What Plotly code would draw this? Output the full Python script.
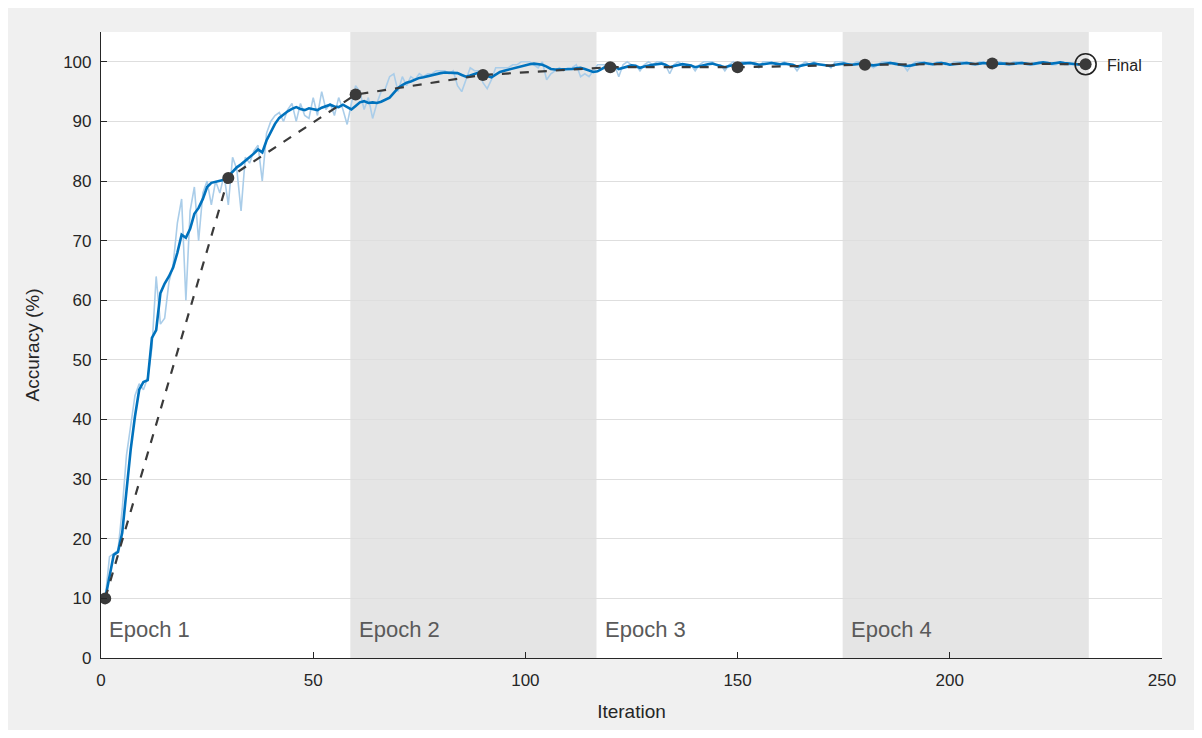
import plotly.graph_objects as go

# ---------------- data ----------------
iterations = list(range(1, 233))

raw_accuracy = [
    10, 17, 17.5, 18, 25, 34, 39, 44, 46, 45,
    47, 52, 64, 56, 57, 63, 66, 73, 77, 60,
    75, 79, 70, 78, 80, 76, 80, 78, 81, 76,
    84, 82, 75, 84, 83, 85, 86, 80, 88, 90,
    91, 91.5, 90, 92, 93, 90, 93, 91, 90.5, 94,
    91, 95, 92, 93, 91, 94, 92, 89.5, 93, 96,
    95, 92, 94, 90.5, 93, 95, 95.5, 97.5, 98, 95,
    97.5, 96, 97.5, 97, 98, 97.5, 98, 98, 98.5, 98.5,
    98.5, 98, 98.5, 96, 95, 97, 99, 98.5, 98.5, 96.5,
    95.5, 97, 99, 99, 99, 99, 99.5, 99.5, 100, 100,
    100, 99.5, 99, 100, 97, 98, 98.5, 99, 98.5, 99,
    99, 99.5, 97.5, 98, 97.5, 98.5, 99.5, 99.5, 99.5, 99.5,
    99.5, 97.5, 99.5, 100, 99.5, 99.5, 98.5, 99.5, 100, 99.5,
    100, 100, 99.5, 98, 99.5, 100, 99.5, 99.5, 99.5, 98.5,
    99.5, 100, 100, 100, 99.5, 99.5, 98.5, 99.5, 100, 99.5,
    100, 100, 100, 99.5, 99, 100, 100, 100, 99.5, 99.5,
    100, 99.5, 99.5, 98.5, 99.5, 100, 99.5, 100, 99.5, 99.5,
    99.5, 99, 100, 100, 100, 99.5, 99.5, 100, 100, 99.5,
    99.5, 99, 99.5, 100, 100, 100, 99.5, 99.5, 99.5, 98.5,
    99.5, 100, 100, 100, 99.5, 99.5, 100, 100, 99.5, 99.5,
    100, 100, 100, 100, 99.5, 99.5, 100, 100, 99.5, 99.5,
    100, 100, 99.5, 99.5, 100, 100, 100, 99.5, 99.5, 99.5,
    100, 100, 100, 99.5, 99.5, 100, 99.5, 99.5, 99.5, 99.5,
    99.5, 99.5,
]

smoothed_accuracy = [
    10, 14, 17.3, 17.8, 21, 28, 35, 40.5, 45, 46.3,
    46.6, 53.7, 55, 61.2, 62.8, 64, 65.5, 68, 71, 70.5,
    72, 74.5, 75.5, 77, 79, 79.7, 79.9, 80, 80.2, 80.8,
    81.6, 82.3, 82.8, 83.4, 83.9, 84.6, 85.3, 84.8, 86.8, 88.3,
    89.6, 90.6, 91.2, 91.7, 92.1, 92.4, 92.1, 91.9, 92.2, 92.1,
    91.9, 92.3, 92.6, 92.8, 92.5, 92.4, 92.8, 92.4, 92.0, 92.6,
    93.2, 93.4, 93.1, 93.2, 93.1, 93.3, 93.7, 94.0, 94.8, 95.6,
    96.1, 96.5, 96.7, 97.0, 97.3, 97.4, 97.6, 97.8, 97.9, 98.1,
    98.2, 98.2, 98.2, 98.1, 97.8, 97.5, 97.7, 98.0, 98.2, 98.0,
    97.6, 97.4, 97.9, 98.3, 98.5, 98.7, 98.9, 99.0, 99.2, 99.4,
    99.6, 99.7, 99.6, 99.5, 99.2, 98.8, 98.7, 98.7, 98.8, 98.7,
    98.8, 98.9, 99.0, 98.8, 98.5, 98.3, 98.4, 98.8, 99.2, 99.4,
    99.3, 98.8, 99.0, 99.2, 99.4, 99.3, 99.0, 99.2, 99.4, 99.5,
    99.6, 99.7, 99.5, 99.1, 99.3, 99.5, 99.6, 99.5, 99.4, 99.1,
    99.3, 99.5, 99.6, 99.7, 99.5, 99.4, 99.1, 99.3, 99.5, 99.6,
    99.7, 99.8, 99.8, 99.7, 99.5, 99.6, 99.7, 99.8, 99.7, 99.6,
    99.7, 99.6, 99.5, 99.2, 99.4, 99.5, 99.6, 99.7, 99.6, 99.5,
    99.4, 99.3, 99.5, 99.6, 99.7, 99.6, 99.5, 99.6, 99.7, 99.6,
    99.5, 99.4, 99.5, 99.6, 99.7, 99.8, 99.7, 99.6, 99.5, 99.3,
    99.4, 99.6, 99.7, 99.8, 99.7, 99.6, 99.7, 99.8, 99.7, 99.5,
    99.6, 99.7, 99.8, 99.8, 99.7, 99.6, 99.7, 99.8, 99.7, 99.7,
    99.8, 99.8, 99.7, 99.6, 99.7, 99.8, 99.8, 99.7, 99.6, 99.7,
    99.8, 99.9, 99.8, 99.7, 99.8, 99.9, 99.8, 99.7, 99.6, 99.5,
    99.5, 99.5,
]

validation_iterations = [1, 30, 60, 90, 120, 150, 180, 210, 232]
validation_accuracy = [10, 80.5, 94.5, 97.8, 99.1, 99.1, 99.5, 99.7, 99.6]

final_iteration = 232
final_accuracy = 99.6

epoch_labels = ["Epoch 1", "Epoch 2", "Epoch 3", "Epoch 4"]
epoch_starts = [0, 58.75, 116.75, 174.75]
epoch_ends = [58.75, 116.75, 174.75, 232.75]

x_ticks = [0, 50, 100, 150, 200, 250]
y_ticks = [0, 10, 20, 30, 40, 50, 60, 70, 80, 90, 100]

# ---------------- figure ----------------
FONT = "Liberation Sans, Arial, Helvetica, sans-serif"
fig = go.Figure()

shapes = []
for i, (s, e) in enumerate(zip(epoch_starts, epoch_ends)):
    if i % 2 == 1:
        shapes.append(dict(type="rect", xref="x", yref="y domain", x0=s, x1=e, y0=0, y1=1,
                           fillcolor="#e5e5e5", line_width=0, layer="below"))

fig.add_trace(go.Scatter(x=iterations, y=raw_accuracy, mode="lines",
                         line=dict(color="#aacde9", width=1.6), hoverinfo="skip", showlegend=False))
fig.add_trace(go.Scatter(x=iterations, y=smoothed_accuracy, mode="lines",
                         line=dict(color="#0072BD", width=2.6), showlegend=False))
fig.add_trace(go.Scatter(x=validation_iterations, y=validation_accuracy, mode="lines+markers",
                         line=dict(color="#3a3a3a", width=2.2, dash="dash"),
                         marker=dict(color="#3a3a3a", size=12), showlegend=False))
fig.add_trace(go.Scatter(x=[final_iteration], y=[final_accuracy], mode="markers",
                         marker=dict(color="rgba(0,0,0,0)", size=21,
                                     line=dict(color="#222222", width=1.6)),
                         showlegend=False))

annotations = []
for lab, s in zip(epoch_labels, epoch_starts):
    annotations.append(dict(x=s + 1.5, y=4.7, xref="x", yref="y", text=lab, showarrow=False,
                            xanchor="left", yanchor="middle",
                            font=dict(family=FONT, size=22, color="#5a5a5a")))
annotations.append(dict(x=final_iteration + 4.5, y=final_accuracy - 0.2, xref="x", yref="y",
                        text="Final", showarrow=False, xanchor="left", yanchor="middle",
                        font=dict(family=FONT, size=16, color="#222222")))

fig.update_layout(
    width=1186, height=722,
    margin=dict(l=93, r=32, t=24, b=72),
    paper_bgcolor="#f0f0f0",
    plot_bgcolor="#ffffff",
    shapes=shapes,
    annotations=annotations,
    font=dict(family=FONT, color="#262626", size=16),
    xaxis=dict(range=[0, 250], tickvals=x_ticks, showgrid=False, zeroline=False,
               showline=True, linecolor="#262626", linewidth=1.2,
               ticks="inside", ticklen=6, tickcolor="#262626", ticklabelstandoff=6,
               tickfont=dict(size=17, color="#262626"),
               title=dict(text="Iteration", font=dict(size=19, color="#262626"), standoff=16)),
    yaxis=dict(range=[0, 105], tickvals=y_ticks, showgrid=True, gridcolor="#dedede", gridwidth=1,
               zeroline=False, showline=True, linecolor="#262626", linewidth=1.2,
               ticks="inside", ticklen=6, tickcolor="#262626", ticklabelstandoff=5,
               tickfont=dict(size=17, color="#262626"),
               title=dict(text="Accuracy (%)", font=dict(size=19, color="#262626"), standoff=18)),
)

fig.write_html("out.html")
